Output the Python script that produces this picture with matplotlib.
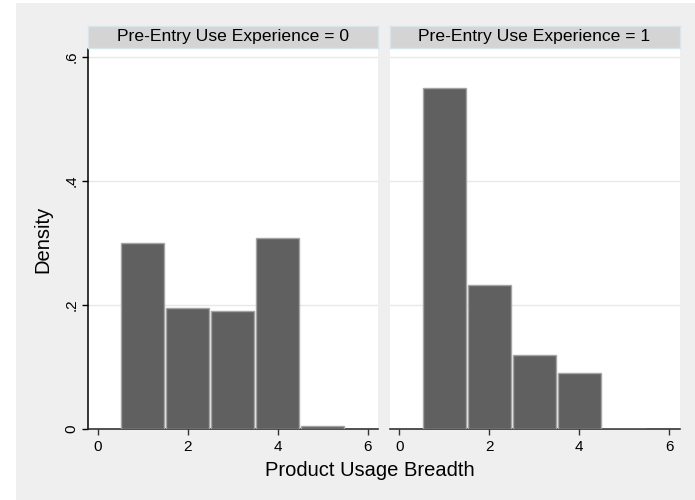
import numpy as np
import matplotlib.pyplot as plt
from matplotlib.patches import Rectangle

plt.rcParams['font.family'] = ['Liberation Sans', 'DejaVu Sans']

# histogram of usage breadth by pre-entry experience (density, bin width 1)
breadth = [1, 2, 3, 4, 5]
density_exp0 = [0.300, 0.195, 0.190, 0.308, 0.005]
density_exp1 = [0.550, 0.233, 0.120, 0.090, 0.0]
panel_titles = ['Pre-Entry Use Experience = 0', 'Pre-Entry Use Experience = 1']
y_ticks = [0, 0.2, 0.4, 0.6]
y_tick_labels = ['0', '.2', '.4', '.6']
x_ticks = [0, 2, 4, 6]

W, H = 695, 500
fig = plt.figure(figsize=(W / 100, H / 100), dpi=100)
fig.patch.set_facecolor('white')

# light gray graph region behind everything
bg = fig.add_axes([0, 0, 1, 1], zorder=-10)
bg.set_xlim(0, W)
bg.set_ylim(H, 0)
bg.axis('off')
bg.add_patch(Rectangle((16, 3), W - 16, H - 3, facecolor='#efefef', edgecolor='none'))


def px_axes(left, top, width, height):
    return fig.add_axes([left / W, 1 - (top + height) / H, width / W, height / H])


bar_fill = '#606060'
bar_edge = '#a4a4a4'
grid_col = '#e8e8e8'

panels = [(88, density_exp0), (389.5, density_exp1)]
for i, (left, dens) in enumerate(panels):
    ax = px_axes(left, 49, 290, 380)
    ax.set_facecolor('white')
    ax.bar(breadth, dens, width=0.96, color=bar_fill, edgecolor=bar_edge,
           linewidth=1.0, zorder=3)
    ax.set_xlim(-0.215, 6.23)
    ax.set_ylim(0, 0.613)
    ax.set_yticks(y_ticks)
    for yv in y_ticks[1:]:
        ax.axhline(yv, color=grid_col, lw=1.0, zorder=1)
    ax.set_xticks(x_ticks)
    ax.set_xticklabels([str(v) for v in x_ticks], fontsize=11)
    ax.tick_params(axis='x', length=4, width=1, pad=4, color='#333333')
    for s in ['top', 'right']:
        ax.spines[s].set_visible(False)
    ax.spines['bottom'].set_color('#222222')
    ax.spines['bottom'].set_linewidth(1.1)
    if i == 0:
        ax.set_yticklabels(y_tick_labels, fontsize=11, rotation=90, va='center')
        ax.tick_params(axis='y', length=4, width=1, pad=3)
        ax.spines['left'].set_color('black')
        ax.spines['left'].set_linewidth(1.1)
    else:
        ax.spines['left'].set_visible(False)
        ax.tick_params(axis='y', left=False, labelleft=False)

    # facet strip
    sx = px_axes(left, 26, 290, 22)
    sx.set_facecolor('#d4d4d4')
    sx.set_xticks([])
    sx.set_yticks([])
    for s in sx.spines.values():
        s.set_color('#d8e6ec')
        s.set_linewidth(1.0)
    sx.text(0.5, 0.5, panel_titles[i], ha='center', va='center',
            fontsize=12.6, transform=sx.transAxes)

fig.text(43 / W, 1 - 239 / H, 'Density', rotation=90, ha='center', va='center',
         fontsize=14.5)
fig.text(370 / W, 1 - 471 / H, 'Product Usage Breadth', ha='center', va='center',
         fontsize=14.5)

fig.savefig('out.png', dpi=100)
